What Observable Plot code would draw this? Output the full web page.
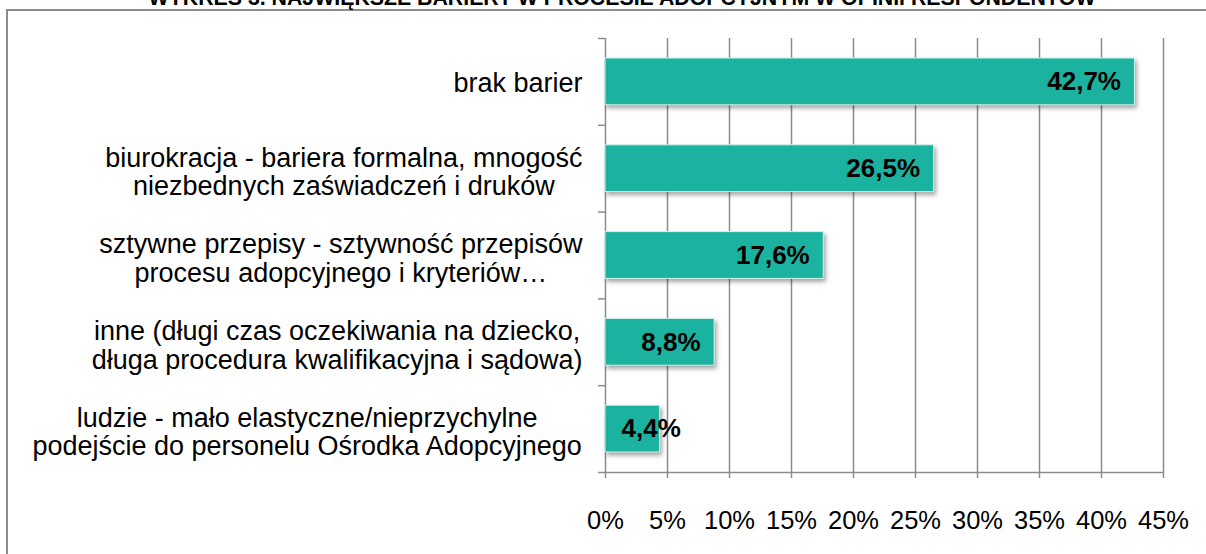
<!DOCTYPE html>
<html>
<head>
<meta charset="utf-8">
<script src="https://cdn.jsdelivr.net/npm/d3@7"></script>
<script src="https://cdn.jsdelivr.net/npm/@observablehq/plot@0.6"></script>
<style>
  html, body { margin: 0; padding: 0; background: #fff; }
  #wrap { position: relative; width: 1206px; height: 554px; overflow: hidden; font-family: "Liberation Sans", Arial, sans-serif; }
  #frame { position: absolute; left: 6px; top: 9px; width: 1400px; height: 700px; border-left: 2px solid #8c8c8c; border-top: 2px solid #8c8c8c; }
  #title { position: absolute; left: 0; top: -12px; width: 1244px; text-align: center; font-size: 21.3px; line-height: 20px; font-weight: bold; color: #000; white-space: nowrap; }
  #chart { position: absolute; left: 0; top: 0; }
  .chart g[aria-label="rect"] rect { filter: drop-shadow(2px 3px 2px rgba(0,0,0,0.35)); }
</style>
</head>
<body>
<div id="wrap">
  <div id="frame"></div>
  <div id="title">WYKRES 3. NAJWIĘKSZE BARIERY W PROCESIE ADOPCYJNYM W OPINII RESPONDENTÓW</div>
  <div id="chart"></div>
</div>
<script>
const categories = [
  "brak barier",
  "biurokracja - bariera formalna, mnogość\nniezbednych zaświadczeń i druków",
  "sztywne przepisy - sztywność przepisów\nprocesu adopcyjnego i kryteriów…",
  "inne (długi czas oczekiwania na dziecko,\ndługa procedura kwalifikacyjna i sądowa)",
  "ludzie - mało elastyczne/nieprzychylne\npodejście do personelu Ośrodka Adopcyjnego"
];
const values = [42.7, 26.5, 17.6, 8.8, 4.4];
const valueLabels = ["42,7%", "26,5%", "17,6%", "8,8%", "4,4%"];
const xTicks = [0, 5, 10, 15, 20, 25, 30, 35, 40, 45];

const FONT = "'Liberation Sans', Arial, sans-serif";
const catSize = 27;
const data = categories.map((c, i) => ({cat: c, value: values[i], label: valueLabels[i], i}));
const bounds = d3.range(categories.length + 1);
const fits = d => d.value >= 8;

// measure each label block so lines can be centred within a right-aligned block
const ctx = document.createElement("canvas").getContext("2d");
ctx.font = `${catSize}px ${FONT}`;
const blockWidth = c => d3.max(c.split("\n"), l => ctx.measureText(l).width);

const labelMarks = data.map(d =>
  Plot.text([d], {x: 0, y: e => e.i + 0.5, text: "cat", textAnchor: "middle",
    dx: -23 - blockWidth(d.cat) / 2, dy: d.cat.includes("\n") ? 3 : 1,
    lineHeight: 1.05, fontSize: catSize, fill: "#000"})
);

const chart = Plot.plot({
  width: 1206,
  height: 554,
  marginLeft: 605,
  marginRight: 43,
  marginTop: 38,
  marginBottom: 82,
  className: "chart",
  style: {fontFamily: FONT, background: "transparent", overflow: "visible"},
  x: {domain: [0, 45]},
  y: {domain: [0, categories.length], reverse: true},
  marks: [
    Plot.ruleX(xTicks, {x: d => d, stroke: "#8c8c8c", strokeWidth: 1.5, strokeOpacity: 1}),
    Plot.axisX({ticks: xTicks, tickFormat: d => d + "%", tickSize: 6, tickPadding: 32, fontSize: 25.5, stroke: "#8c8c8c", strokeWidth: 1.5, strokeOpacity: 1, color: "#000", label: null}),
    Plot.ruleY([categories.length], {stroke: "#8c8c8c", strokeWidth: 1.5}),
    Plot.axisY({ticks: bounds, tickFormat: () => "", tickSize: 7, stroke: "#8c8c8c", strokeWidth: 1.5, strokeOpacity: 1, label: null}),
    Plot.rectX(data, {x1: 0, x2: "value", y1: "i", y2: d => d.i + 1, insetTop: 20, insetBottom: 20, fill: "#1bb3a0", stroke: "#d4f1eb", strokeWidth: 1}),
    ...labelMarks,
    Plot.text(data.filter(fits), {x: "value", y: d => d.i + 0.5, text: "label", textAnchor: "end", dx: -14, fontSize: 26, fontWeight: "bold", fill: "#000"}),
    Plot.text(data.filter(d => !fits(d)), {x: 0, y: d => d.i + 0.5, text: "label", textAnchor: "start", dx: 16, fontSize: 26, fontWeight: "bold", fill: "#000"})
  ]
});
document.getElementById("chart").appendChild(chart);
</script>
</body>
</html>
